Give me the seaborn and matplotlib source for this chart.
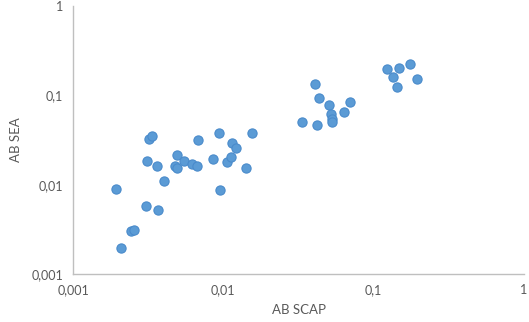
import numpy as np
import pandas as pd
import matplotlib
matplotlib.use("Agg")
import matplotlib.pyplot as plt
import seaborn as sns
from matplotlib.ticker import FixedLocator, FuncFormatter, NullLocator

# values (log-log)
ab_scap = [0.00192, 0.00208, 0.00243, 0.00253, 0.00306, 0.00366, 0.00309, 0.00322,
           0.00337, 0.00364, 0.00405, 0.00494, 0.00477, 0.00490, 0.00548, 0.00622,
           0.00665, 0.00676, 0.00858, 0.00940, 0.00946, 0.01063, 0.01130, 0.01143,
           0.01221, 0.01409, 0.01552,
           0.0336, 0.0420, 0.0406, 0.0433, 0.0503, 0.0521, 0.0526, 0.0526, 0.0638,
           0.0693,
           0.123, 0.147, 0.174, 0.135, 0.143, 0.195]
ab_sea = [0.00896, 0.00197, 0.00304, 0.00310, 0.00581, 0.00519, 0.0186, 0.0326,
          0.0355, 0.0163, 0.0110, 0.0216, 0.0161, 0.0155, 0.0185, 0.0169,
          0.0163, 0.0320, 0.0192, 0.0381, 0.00872, 0.0180, 0.0205, 0.0291,
          0.0256, 0.0152, 0.0381,
          0.0506, 0.0460, 0.134, 0.0925, 0.0778, 0.0623, 0.0547, 0.0501, 0.0656,
          0.0834,
          0.196, 0.201, 0.223, 0.161, 0.124, 0.151]
decades = [0.001, 0.01, 0.1, 1]

df = pd.DataFrame({"AB SCAP": ab_scap, "AB SEA": ab_sea})

sns.set_style("white")
plt.rcParams["font.family"] = ["Lato", "DejaVu Sans"]

fig = plt.figure(figsize=(5.29, 3.22), dpi=100)
ax = fig.add_axes([73 / 529, 1 - 274 / 322, (524 - 73) / 529, (274 - 6) / 322])

sns.scatterplot(data=df, x="AB SCAP", y="AB SEA", ax=ax, s=44,
                color="#5B9BD5", edgecolor="#4A8BCB", linewidth=0.8, zorder=3)

ax.set_xscale("log")
ax.set_yscale("log")
ax.set_xlim(0.001, 1)
ax.set_ylim(0.001, 1)

fmt = FuncFormatter(lambda v, p: ("%g" % v).replace(".", ","))
for a in (ax.xaxis, ax.yaxis):
    a.set_major_locator(FixedLocator(decades))
    a.set_minor_locator(NullLocator())
    a.set_major_formatter(fmt)

for s in ["top", "right"]:
    ax.spines[s].set_visible(False)
for s in ["left", "bottom"]:
    ax.spines[s].set_color("#BFBFBF")
    ax.spines[s].set_linewidth(1)

ax.tick_params(axis="both", which="major", direction="out", length=4, width=1,
               color="#BFBFBF", labelcolor="#595959", labelsize=9, pad=3)
ax.set_xlabel("AB SCAP", color="#595959", fontsize=9.5, labelpad=6)
ax.set_ylabel("AB SEA", color="#595959", fontsize=9.5, labelpad=7)

fig.savefig("out.png", dpi=100)
